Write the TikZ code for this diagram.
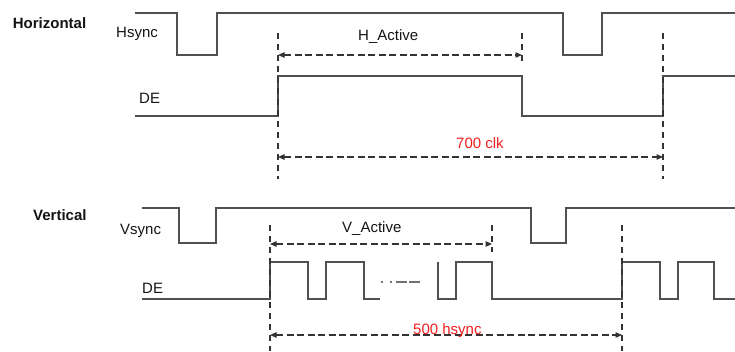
\documentclass[tikz,border=0pt]{standalone}
\usepackage{fontspec}
\setmainfont{Liberation Sans}
\usetikzlibrary{arrows.meta}
\definecolor{wave}{RGB}{80,80,80}
\definecolor{lbl}{RGB}{20,20,20}
\definecolor{redtxt}{RGB}{240,30,30}
\tikzset{
  wavelines/.style={draw=wave, line width=1.5bp, line join=miter},
  marker/.style={draw=black!80, line width=1.2bp, dash pattern=on 6bp off 5bp},
  span/.style={draw=black!80, line width=1.2bp, dash pattern=on 7bp off 3.5bp,
    {Triangle[length=6.5bp,width=5.5bp,sep=0pt]}-{Triangle[length=6.5bp,width=5.5bp,sep=0pt]}},
  txt/.style={anchor=base west, inner sep=0pt, text=lbl, font=\fontsize{15bp}{18bp}\selectfont},
  head/.style={txt, font=\fontsize{15bp}{18bp}\selectfont\bfseries},
  redlbl/.style={txt, text=redtxt},
  gapmark/.style={draw=wave!80, line width=1.2bp,
    dash pattern=on 2bp off 7bp on 2bp off 4bp on 11bp off 2bp on 11bp off 100bp}
}
\begin{document}
\begin{tikzpicture}[x=1bp, y=-1bp]
\useasboundingbox (0,0) rectangle (735,351);
% ---------- Horizontal ----------
\node[head] (hor) at (12.7,28) {Horizontal};
\node[txt] (hsynclbl) at (116,37) {Hsync};
\node[txt] (hdelbl) at (139,103) {DE};
\draw[wavelines] (135,13) -- (177,13) -- (177,55) -- (217,55) -- (217,13) -- (563,13)
  -- (563,55) -- (602,55) -- (602,13) -- (735,13);
\draw[wavelines] (135,116) -- (278,116) -- (278,76) -- (522,76) -- (522,116) -- (663,116)
  -- (663,76) -- (735,76);
\coordinate (h1t) at (278,33); \coordinate (h1b) at (278,179);
\coordinate (h2t) at (522,33); \coordinate (h2b) at (522,65);
\coordinate (h3t) at (663,33); \coordinate (h3b) at (663,179);
\draw[marker] (h1t) -- (h1b);
\draw[marker] (h2t) -- (h2b);
\draw[marker] (h3t) -- (h3b);
\coordinate (haL) at (278,55); \coordinate (haR) at (522,55);
\coordinate (hcL) at (278,157); \coordinate (hcR) at (663,157);
\draw[span] (haL) -- (haR);
\draw[span] (hcL) -- (hcR);
\node[txt] (hactive) at (358,40) {H\_Active};
\node[redlbl] (clk) at (456,148) {700 clk};
% ---------- Vertical ----------
\node[head] (ver) at (33,220) {Vertical};
\node[txt] (vsynclbl) at (120,234) {Vsync};
\node[txt] (vdelbl) at (142,293) {DE};
\draw[wavelines] (142,208) -- (179,208) -- (179,243) -- (216,243) -- (216,208) -- (531,208)
  -- (531,243) -- (566,243) -- (566,208) -- (735,208);
\draw[wavelines] (142,299) -- (270,299) -- (270,262) -- (308,262) -- (308,299) -- (326,299)
  -- (326,262) -- (364,262) -- (364,299) -- (380,299);
\draw[wavelines] (438,262) -- (438,299) -- (456,299) -- (456,262) -- (492,262) -- (492,299)
  -- (622,299) -- (622,262) -- (660,262) -- (660,299) -- (678,299) -- (678,262)
  -- (714,262) -- (714,299) -- (735,299);
\coordinate (g1) at (381,282); \coordinate (g2) at (421,282);
\draw[gapmark] (g1) -- (g2);
\coordinate (v1t) at (270,225); \coordinate (v1b) at (270,351);
\coordinate (v2t) at (492,225); \coordinate (v2b) at (492,252);
\coordinate (v3t) at (622,225); \coordinate (v3b) at (622,351);
\draw[marker] (v1t) -- (v1b);
\draw[marker] (v2t) -- (v2b);
\draw[marker] (v3t) -- (v3b);
\coordinate (vaL) at (270,244); \coordinate (vaR) at (492,244);
\coordinate (vhL) at (270,335); \coordinate (vhR) at (622,335);
\draw[span] (vaL) -- (vaR);
\draw[span] (vhL) -- (vhR);
\node[txt] (vactive) at (342,232) {V\_Active};
\node[redlbl] (hs) at (413,334) {500 hsync};
\end{tikzpicture}
\end{document}
